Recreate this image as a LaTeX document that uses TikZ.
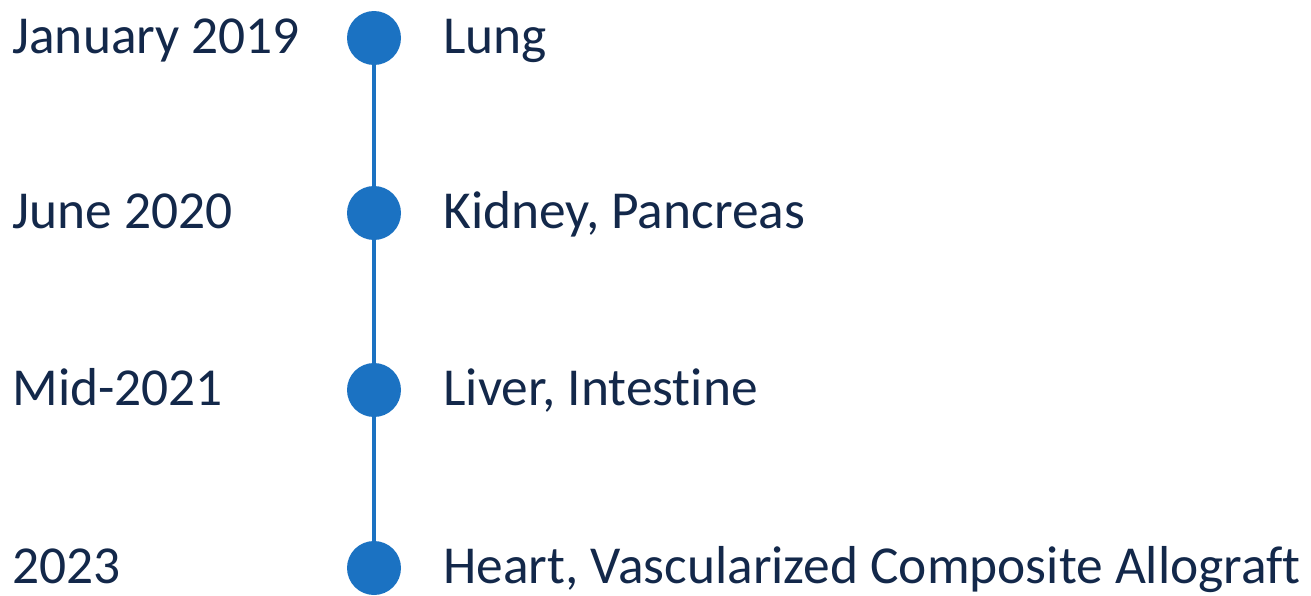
\documentclass[tikz,border=0pt]{standalone}
\usepackage{fontspec}
\setmainfont{Carlito}[Ligatures=NoCommon]
\usepackage{tikz}
\usetikzlibrary{positioning}

\definecolor{dotblue}{HTML}{1B72C2}
\definecolor{navytext}{HTML}{13284A}

\begin{document}
\begin{tikzpicture}[x=0.02cm,y=-0.02cm,line join=round]
  \tikzset{
    mark dot/.style={circle,fill=dotblue,inner sep=0pt,minimum size=1.08cm},
    datelabel/.style={anchor=base west,inner sep=0pt,text=navytext,font=\fontsize{30.4}{36}\selectfont},
    organlabel/.style={anchor=base west,inner sep=0pt,text=navytext,font=\fontsize{30.4}{36}\selectfont}
  }
  \useasboundingbox (0,0) rectangle (1311,595);
  \node[mark dot] (D1) at (374,38) {};
  \node[mark dot] (D2) at (374,213) {};
  \node[mark dot] (D3) at (374,390) {};
  \node[mark dot] (D4) at (374,568) {};
  \draw[dotblue,line width=0.08cm] (D1) -- (D2);
  \draw[dotblue,line width=0.08cm] (D2) -- (D3);
  \draw[dotblue,line width=0.08cm] (D3) -- (D4);
  \node[datelabel] (T1) at (12,53) {January 2019};
  \node[datelabel] (T2) at (12,228) {June 2020};
  \node[datelabel] (T3) at (12,405) {Mid-2021};
  \node[datelabel] (T4) at (12,583) {2023};
  \node[organlabel] (O1) at (443,53) {Lung};
  \node[organlabel] (O2) at (443,228) {Kidney, Pancreas};
  \node[organlabel] (O3) at (443,405) {Liver, Intestine};
  \node[organlabel] (O4) at (443,583) {Heart, Vascularized Composite Allograft};
\end{tikzpicture}
\end{document}
